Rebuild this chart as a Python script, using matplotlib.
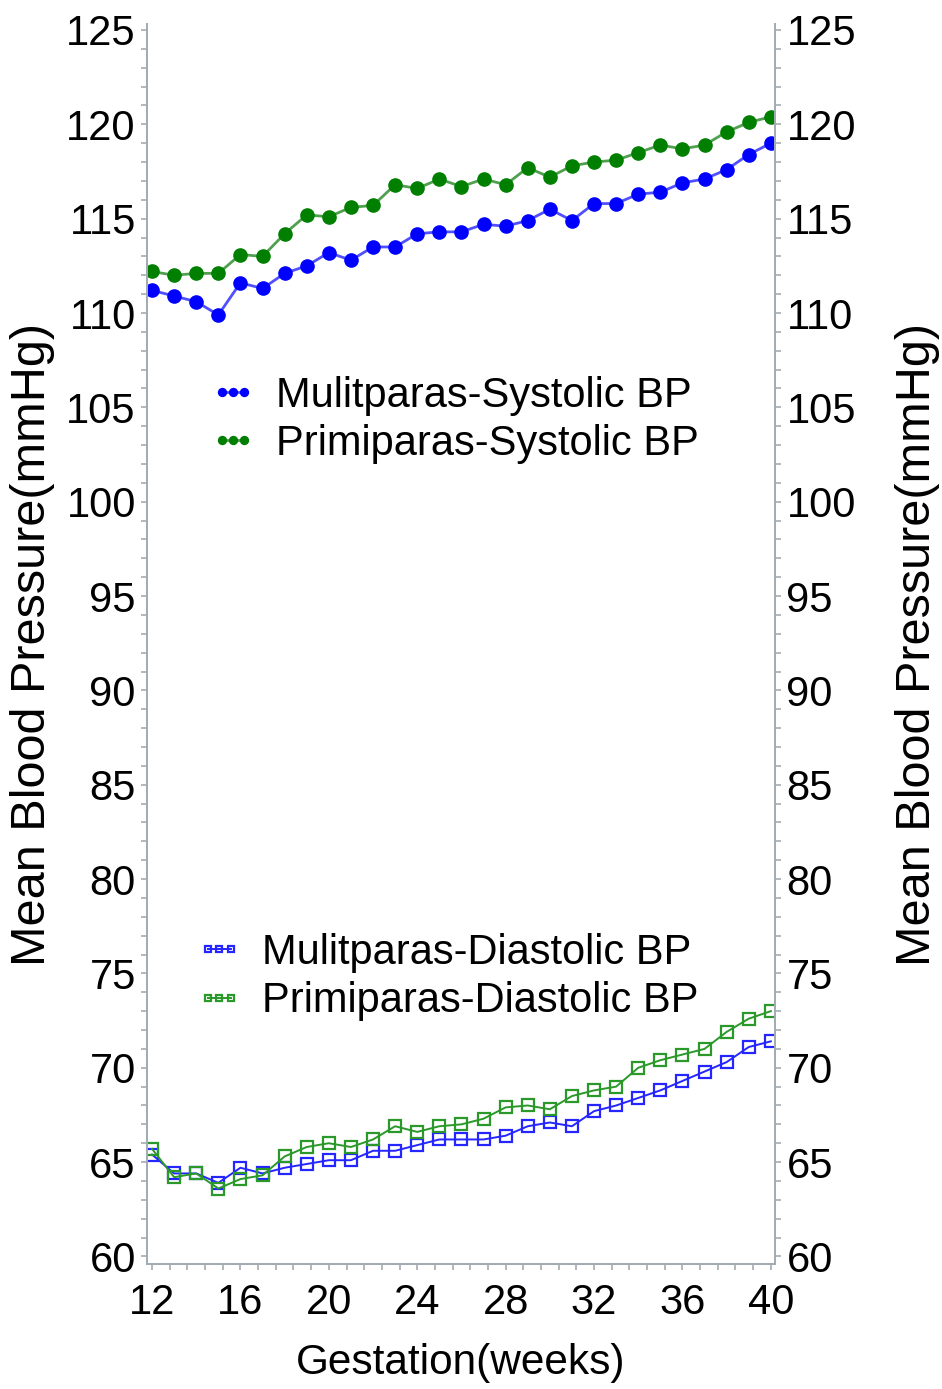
import matplotlib.pyplot as plt
from matplotlib.ticker import MultipleLocator, AutoMinorLocator

plt.rcParams['font.family'] = ['Liberation Sans', 'DejaVu Sans']

# Data
weeks = list(range(12, 41))
multi_sys = [111.2, 110.9, 110.6, 109.9, 111.6, 111.3, 112.1, 112.5, 113.2, 112.8,
             113.5, 113.5, 114.2, 114.3, 114.3, 114.7, 114.6, 114.9, 115.5, 114.9,
             115.8, 115.8, 116.3, 116.4, 116.9, 117.1, 117.6, 118.4, 119.0]
primi_sys = [112.2, 112.0, 112.1, 112.1, 113.1, 113.0, 114.2, 115.2, 115.1, 115.6,
             115.7, 116.8, 116.6, 117.1, 116.7, 117.1, 116.8, 117.7, 117.2, 117.8,
             118.0, 118.1, 118.5, 118.9, 118.7, 118.9, 119.6, 120.1, 120.4]
multi_dia = [65.4, 64.4, 64.4, 63.9, 64.7, 64.4, 64.7, 64.9, 65.1, 65.1,
             65.6, 65.6, 65.9, 66.2, 66.2, 66.2, 66.4, 66.9, 67.1, 66.9,
             67.7, 68.0, 68.4, 68.8, 69.3, 69.8, 70.3, 71.1, 71.4]
primi_dia = [65.7, 64.2, 64.4, 63.6, 64.1, 64.3, 65.3, 65.8, 66.0, 65.8,
             66.2, 66.9, 66.6, 66.9, 67.0, 67.3, 67.9, 68.0, 67.8, 68.5,
             68.8, 69.0, 70.0, 70.4, 70.7, 71.0, 71.9, 72.6, 73.0]

axis_gray = '#a3abb3'

fig = plt.figure(figsize=(9.42, 13.89), dpi=100)
ax = fig.add_axes([0.156, 0.09, 0.667, 0.8925])

# systolic: filled dots
l1, = ax.plot(weeks, multi_sys, color='#5050ff', lw=2, marker='o', ms=9.5,
              mfc='#0000ff', mec='#0000ff', label='Mulitparas-Systolic BP')
l2, = ax.plot(weeks, primi_sys, color='#50a050', lw=2, marker='o', ms=9.5,
              mfc='#007f00', mec='#007f00', label='Primiparas-Systolic BP')
# diastolic: open squares
l3, = ax.plot(weeks, multi_dia, color='#2525ff', lw=1.4, marker='s', ms=8,
              mfc='none', mec='#2525ff', mew=1.6, label='Mulitparas-Diastolic BP')
l4, = ax.plot(weeks, primi_dia, color='#2a992a', lw=1.4, marker='s', ms=8,
              mfc='none', mec='#2a992a', mew=1.6, label='Primiparas-Diastolic BP')

ax.set_xlim(11.77, 40.2)
ax.set_ylim(59.6, 125.3)
ax.xaxis.set_major_locator(MultipleLocator(4))
ax.xaxis.set_minor_locator(AutoMinorLocator(5))
ax.yaxis.set_major_locator(MultipleLocator(5))
ax.yaxis.set_minor_locator(MultipleLocator(1))

ax2 = ax.twinx()
ax2.set_ylim(ax.get_ylim())
ax2.yaxis.set_major_locator(MultipleLocator(5))
ax2.yaxis.set_minor_locator(MultipleLocator(1))

for a in (ax, ax2):
    for s in a.spines.values():
        s.set_color(axis_gray)
        s.set_linewidth(1.4)
    a.spines['top'].set_visible(False)
    a.tick_params(which='both', color=axis_gray, width=1.2, length=4,
                  labelsize=30, pad=4)
ax.tick_params(axis='x', pad=10)

ax.set_xlabel('Gestation(weeks)', fontsize=30.5, labelpad=14)
ax.set_ylabel('Mean Blood Pressure(mmHg)', fontsize=35, labelpad=8)
ax2.set_ylabel('Mean Blood Pressure(mmHg)', fontsize=35, rotation=90, labelpad=28)

leg_kw = dict(loc='center right', frameon=False, fontsize=30, numpoints=3,
              markerscale=0.6, handlelength=1.15, handletextpad=0.45,
              labelspacing=0.2, borderpad=0, borderaxespad=0)
leg1 = ax.legend(handles=[l1, l2], bbox_to_anchor=(0.878, 0.681), **leg_kw)
ax.add_artist(leg1)
ax.legend(handles=[l3, l4], bbox_to_anchor=(0.878, 0.2315), **leg_kw)

fig.savefig('out.png', dpi=100)
